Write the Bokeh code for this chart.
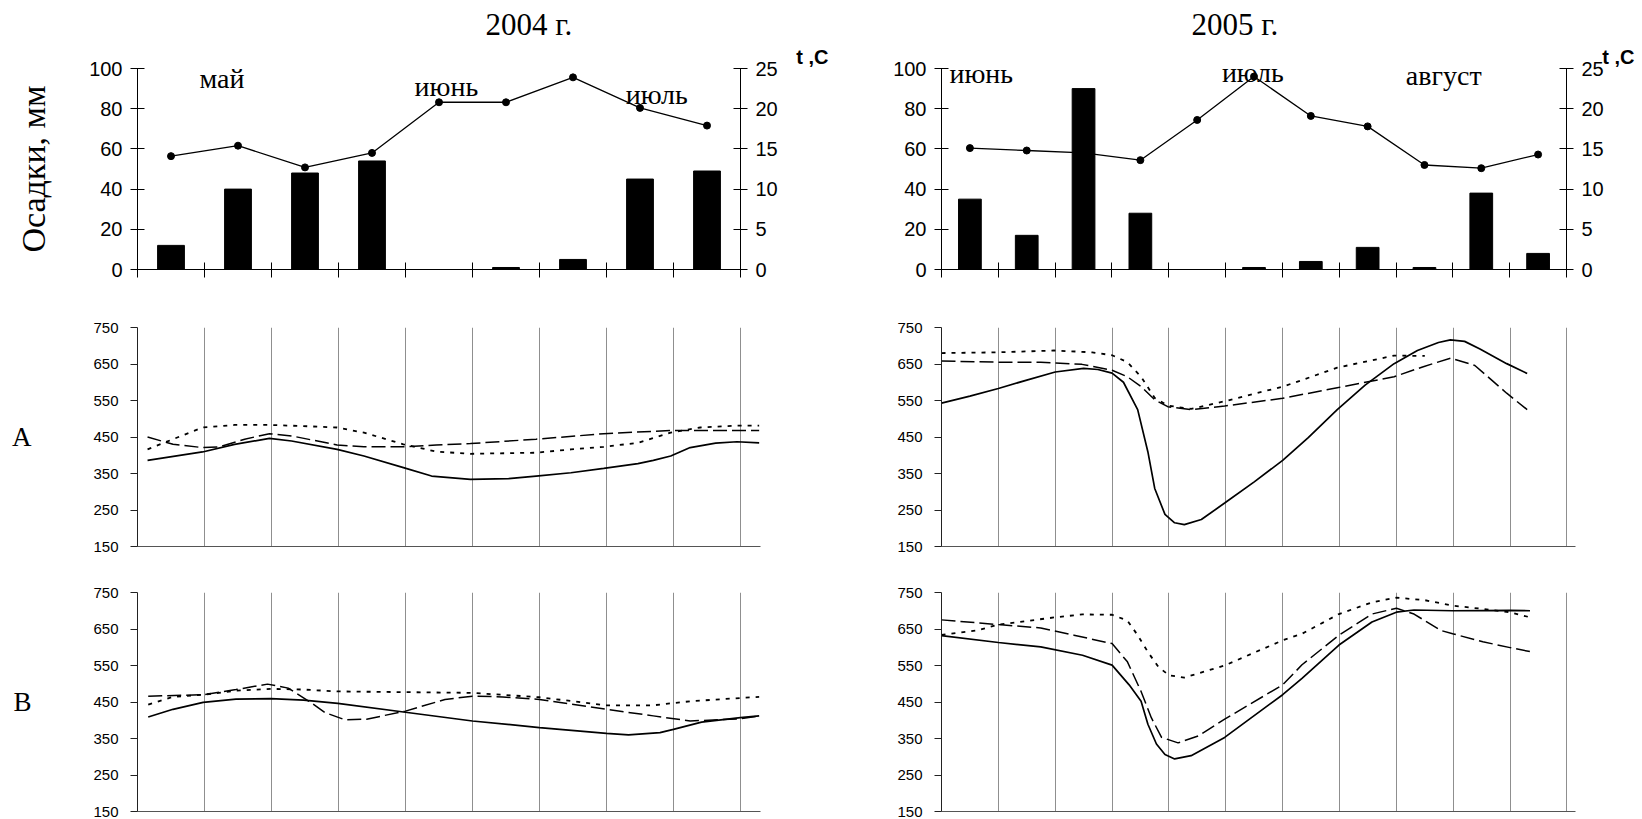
from bokeh.plotting import figure
from bokeh.models import Range1d, LinearAxis, Label, FixedTicker, Title, CustomJSTickFormatter
from bokeh.layouts import row, column
from bokeh.embed import file_html
from bokeh.resources import INLINE

# ---------------- data ----------------
# top charts: ten-day periods (decades)
dec_2004 = [1, 2, 3, 4, 5, 6, 7, 8, 9]
precip_2004 = [12, 40, 48, 54, 0, 1, 5, 45, 49]          # mm
temp_2004 = [14.1, 15.4, 12.7, 14.5, 20.8, 20.8, 23.9, 20.1, 17.9]  # t, C
months_2004 = ["май", "июнь", "июль"]
month_pos_2004 = [(1.26, 95), (4.61, 91), (7.75, 87)]

dec_2005 = [1, 2, 3, 4, 5, 6, 7, 8, 9, 10, 11]
precip_2005 = [35, 17, 90, 28, 0, 1, 4, 11, 1, 38, 8]
temp_2005 = [15.1, 14.8, 14.5, 13.6, 18.6, 24.0, 19.1, 17.8, 13.0, 12.6, 14.3]
months_2005 = ["июнь", "июль", "август"]
month_pos_2005 = [(0.70, 97.6), (5.48, 98), (8.84, 96.5)]

left_ticks_top = [0, 20, 40, 60, 80, 100]
right_ticks_top = [0, 5, 10, 15, 20, 25]
low_ticks = [150, 250, 350, 450, 550, 650, 750]

# A 2004
a04_solid_x = [0.15, 0.97, 1.45, 1.97, 2.3, 2.98, 3.38, 3.97, 4.39, 4.97, 5.54, 5.95, 6.47, 6.96, 7.47, 7.7, 7.96, 8.25, 8.63, 8.95, 9.28]
a04_solid_y = [386, 409, 430, 446, 439, 416, 398, 366, 343, 334, 336, 343, 352, 364, 377, 386, 398, 421, 433, 437, 434]
a04_dash_x = [0.15, 0.53, 0.97, 1.22, 1.6, 1.97, 2.3, 2.98, 3.38, 3.97, 4.46, 4.97, 5.95, 6.96, 7.96, 8.95, 9.28]
a04_dash_y = [450, 430, 421, 423, 444, 459, 453, 428, 423, 423, 428, 432, 444, 459, 468, 468, 468]
a04_dot_x = [0.15, 0.53, 0.97, 1.45, 1.97, 2.46, 2.98, 3.38, 3.97, 4.46, 4.97, 5.95, 6.47, 6.96, 7.47, 7.96, 8.4, 8.95, 9.28]
a04_dot_y = [416, 444, 476, 483, 483, 480, 476, 462, 430, 410, 404, 407, 416, 423, 434, 462, 476, 481, 481]

# B 2004
b04_solid_x = [0.16, 0.53, 0.98, 1.47, 1.99, 2.48, 2.99, 4.0, 5.0, 6.0, 7.0, 7.33, 7.8, 8.0, 8.42, 9.0, 9.28]
b04_solid_y = [409, 430, 449, 458, 459, 455, 446, 422, 398, 380, 364, 360, 366, 375, 395, 407, 412]
b04_dash_x = [0.16, 0.98, 1.47, 1.94, 2.25, 2.56, 2.8, 3.1, 3.42, 4.0, 4.59, 5.0, 5.45, 6.0, 7.0, 7.7, 8.25, 9.0, 9.28]
b04_dash_y = [466, 470, 484, 499, 488, 452, 421, 401, 403, 425, 457, 466, 464, 457, 430, 412, 398, 404, 412]
b04_dot_x = [0.16, 0.53, 0.98, 1.47, 1.99, 2.48, 2.99, 4.0, 5.0, 6.0, 7.0, 7.7, 8.25, 9.0, 9.28]
b04_dot_y = [443, 464, 470, 481, 486, 484, 479, 477, 475, 463, 441, 441, 452, 461, 464]

# A 2005
a05_solid_x = [0, 0.5, 1, 1.5, 2, 2.5, 2.75, 3.0, 3.2, 3.45, 3.63, 3.75, 3.93, 4.1, 4.27, 4.57, 4.98, 5.5, 6.0, 6.45, 6.96, 7.45, 7.96, 8.37, 8.74, 8.95, 9.2, 9.47, 9.94, 10.3]
a05_solid_y = [543, 562, 583, 606, 628, 638, 635, 625, 600, 525, 409, 309, 238, 215, 210, 224, 269, 327, 386, 448, 525, 592, 651, 687, 709, 716, 712, 691, 651, 624]
a05_dash_x = [0, 1, 1.745, 2.47, 3.0, 3.27, 3.51, 3.75, 3.98, 4.39, 4.98, 6.0, 6.96, 7.96, 8.46, 8.95, 9.38, 9.94, 10.3]
a05_dash_y = [658, 655, 655, 649, 633, 615, 588, 552, 533, 525, 535, 556, 585, 615, 642, 666, 646, 570, 525]
a05_dot_x = [0, 1, 1.98, 2.65, 3.0, 3.27, 3.51, 3.75, 3.98, 4.39, 4.98, 6.0, 6.34, 6.96, 7.96, 8.5]
a05_dot_y = [680, 682, 687, 682, 674, 655, 615, 557, 536, 527, 548, 588, 606, 640, 673, 672]

# B 2005
b05_solid_x = [0, 1, 1.745, 2.48, 3.0, 3.3, 3.51, 3.63, 3.78, 3.93, 4.1, 4.39, 4.98, 6.0, 6.34, 6.99, 7.57, 8.0, 8.31, 8.99, 10.0, 10.35]
b05_solid_y = [632, 613, 601, 578, 551, 497, 452, 389, 335, 306, 294, 303, 353, 470, 515, 606, 669, 696, 702, 700, 701, 700]
b05_dash_x = [0, 1, 1.745, 2.33, 3.0, 3.27, 3.51, 3.69, 3.87, 4.16, 4.52, 4.98, 6.0, 6.34, 6.99, 7.57, 8.0, 8.31, 8.78, 8.99, 9.52, 10.0, 10.35]
b05_dash_y = [675, 662, 653, 633, 610, 560, 479, 407, 353, 338, 357, 403, 497, 552, 633, 691, 707, 691, 646, 637, 615, 599, 588]
b05_dot_x = [0, 0.63, 1, 1.55, 2.0, 2.48, 3.0, 3.27, 3.45, 3.63, 3.81, 4.0, 4.27, 4.98, 6.0, 6.34, 6.99, 7.57, 8.0, 8.5, 8.99, 9.52, 10.0, 10.35]
b05_dot_y = [634, 646, 662, 673, 682, 690, 689, 673, 633, 587, 547, 523, 517, 550, 619, 637, 691, 723, 736, 729, 714, 705, 696, 682]

SERIF = "Liberation Serif"
SANS = "Liberation Sans"


def top_chart(width, bl, br, decs, precip, temp, title, title_off, months, mpos, tc_off, ylabel=None):
    n = len(decs)
    p = figure(width=width, height=290, output_backend="svg", toolbar_location=None,
               x_range=Range1d(0, n), y_range=Range1d(0, 100),
               min_border_left=bl, min_border_right=br, min_border_top=68, min_border_bottom=21)
    p.outline_line_color = None
    p.xgrid.visible = False
    p.ygrid.visible = False
    p.extra_y_ranges = {"temp": Range1d(0, 25)}
    centers = [d - 0.5 for d in decs]
    p.line(centers, temp, y_range_name="temp", line_color="black", line_width=1.3)
    p.scatter(centers, temp, y_range_name="temp", size=7, color="black")
    p.vbar(x=centers, top=precip, width=0.4, bottom=0, color="black")

    ra = LinearAxis(y_range_name="temp", ticker=FixedTicker(ticks=right_ticks_top))
    p.add_layout(ra, "right")
    for ax in (p.yaxis[0], ra):
        ax.major_tick_in = 7
        ax.major_tick_out = 7
        ax.minor_tick_line_color = None
        ax.major_label_text_font = SANS
        ax.major_label_text_font_size = "20px"
        ax.major_label_text_color = "black"
        ax.axis_line_color = "black"
        ax.major_tick_line_color = "black"
        ax.major_label_standoff = 8
    p.yaxis[0].ticker = FixedTicker(ticks=left_ticks_top)
    p.xaxis.ticker = FixedTicker(ticks=list(range(0, n + 1)))
    p.xaxis.formatter = CustomJSTickFormatter(code="return ''")
    p.xaxis.major_tick_in = 7
    p.xaxis.major_tick_out = 8
    p.xaxis.major_label_standoff = 0
    p.xaxis.axis_line_color = "black"
    p.xaxis.major_tick_line_color = "black"
    p.xaxis.minor_tick_line_color = None

    # year title (farther from the frame) and "t ,C" (closest to the frame)
    p.title.text = title
    p.title.align = "left"
    p.title.offset = title_off
    p.title.text_font = SERIF
    p.title.text_font_size = "31px"
    p.title.text_font_style = "normal"
    p.title.text_color = "black"
    p.title.standoff = 2
    p.add_layout(Title(text="t ,C", align="right", offset=tc_off, text_font=SANS,
                       text_font_size="20px", text_font_style="bold", text_color="black",
                       standoff=2), "above")

    for m, (mx, my) in zip(months, mpos):
        p.add_layout(Label(x=mx, y=my, text=m, text_font=SERIF, text_font_size="28px",
                           text_align="center", text_baseline="middle", text_color="black"))
    if ylabel:
        p.yaxis[0].axis_label = ylabel
        p.yaxis[0].axis_label_text_font = SERIF
        p.yaxis[0].axis_label_text_font_size = "34px"
        p.yaxis[0].axis_label_text_font_style = "normal"
        p.yaxis[0].axis_label_text_color = "black"
        p.yaxis[0].axis_label_standoff = 34
    return p


def low_chart(width, height, bl, br, bt, bb, xend, ngrid, curves, side_label=None):
    p = figure(width=width, height=height, output_backend="svg", toolbar_location=None,
               x_range=Range1d(0, xend), y_range=Range1d(150, 750),
               min_border_left=bl, min_border_right=br, min_border_top=bt, min_border_bottom=bb)
    p.outline_line_color = None
    p.ygrid.visible = False
    p.xgrid.ticker = FixedTicker(ticks=list(range(1, ngrid + 1)))
    p.xgrid.grid_line_color = "#8f8f8f"
    p.xgrid.grid_line_width = 1
    p.xaxis.ticker = FixedTicker(ticks=[])
    p.xaxis.major_tick_out = 0
    p.xaxis.major_tick_in = 0
    p.xaxis.major_label_standoff = 0
    p.xaxis.minor_tick_line_color = None
    p.xaxis.axis_line_color = "#555555"
    p.yaxis.ticker = FixedTicker(ticks=low_ticks)
    p.yaxis.major_tick_out = 7
    p.yaxis.major_tick_in = 0
    p.yaxis.minor_tick_line_color = None
    p.yaxis.axis_line_color = "#222222"
    p.yaxis.major_tick_line_color = "#222222"
    p.yaxis.major_label_text_font = SANS
    p.yaxis.major_label_text_font_size = "15px"
    p.yaxis.major_label_text_color = "black"
    p.yaxis.major_label_standoff = 12

    (sx, sy), (dx, dy), (tx, ty) = curves
    p.line(dx, dy, line_color="black", line_width=1.5, line_dash="14 5")
    p.line(tx, ty, line_color="black", line_width=1.8, line_dash="4 6")
    p.line(sx, sy, line_color="black", line_width=1.7)
    if side_label:
        ax = p.yaxis[0]
        ax.axis_label = side_label
        ax.axis_label_orientation = "horizontal"
        ax.axis_label_text_font = SERIF
        ax.axis_label_text_font_size = "27px"
        ax.axis_label_text_font_style = "normal"
        ax.axis_label_text_color = "black"
        ax.axis_label_standoff = 59
    return p


# left column: frame 137..740 (top), 137..760 (low); right column starts at x=860
p1 = top_chart(860, 137, 120, dec_2004, precip_2004, temp_2004, "2004 г.", 348,
               months_2004, month_pos_2004, -88, ylabel="Осадки, мм")
p2 = top_chart(782, 81, 76, dec_2005, precip_2005, temp_2005, "2005 г.", 250,
               months_2005, month_pos_2005, -68)

p3 = low_chart(860, 270, 137, 100, 36, 14, 9.3, 9,
               [(a04_solid_x, a04_solid_y), (a04_dash_x, a04_dash_y), (a04_dot_x, a04_dot_y)],
               side_label="А")
p4 = low_chart(782, 270, 81, 67, 37, 11, 11.15, 11,
               [(a05_solid_x, a05_solid_y), (a05_dash_x, a05_dash_y), (a05_dot_x, a05_dot_y)])
p5 = low_chart(860, 259, 137, 100, 32, 8, 9.3, 9,
               [(b04_solid_x, b04_solid_y), (b04_dash_x, b04_dash_y), (b04_dot_x, b04_dot_y)],
               side_label="В")
p6 = low_chart(782, 259, 81, 67, 32, 8, 11.15, 11,
               [(b05_solid_x, b05_solid_y), (b05_dash_x, b05_dash_y), (b05_dot_x, b05_dot_y)])

layout = column(row(p1, p2), row(p3, p4), row(p5, p6))
open("out.html", "w").write(file_html(layout, INLINE))
